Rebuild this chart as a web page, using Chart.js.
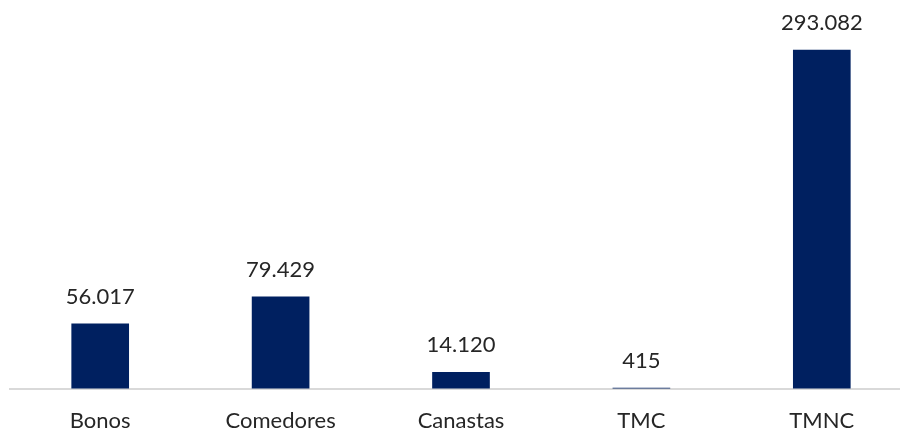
<!DOCTYPE html>
<html>
<head>
<meta charset="utf-8">
<script src="https://cdn.jsdelivr.net/npm/chart.js@4"></script>
<style>
html, body { margin:0; padding:0; background:#fff; overflow:hidden; }
#wrap { width:912px; height:430px; }
</style>
</head>
<body>
<div id="wrap"><canvas id="chart"></canvas></div>
<script>
const categories = ["Bonos", "Comedores", "Canastas", "TMC", "TMNC"]
const values = [56017, 79429, 14120, 415, 293082]

// miles con punto
const fmt = v => String(v).replace(/\B(?=(\d{3})+(?!\d))/g, ".")

const FONT = "Lato, 'Open Sans', sans-serif"

const valueLabels = {
id: "valueLabels",
afterDatasetsDraw(chart){
const ctx = chart.ctx
const meta = chart.getDatasetMeta(0)
ctx.save()
ctx.font = "22px " + FONT
ctx.fillStyle = "#262626"
ctx.textAlign = "center"
ctx.textBaseline = "middle"
meta.data.forEach((bar,i)=>{
ctx.fillText(fmt(values[i]), bar.x, bar.y - 27)
})
ctx.restore()
}
}

new Chart(document.getElementById("chart"),{
type:"bar",
data:{
labels:categories,
datasets:[{
data:values,
backgroundColor:"#002060",
barThickness:57
}]
},
plugins:[valueLabels],
options:{
responsive:true,
maintainAspectRatio:false,
animation:false,
layout:{padding:{top:42, left:10, right:0, bottom:-23}},
plugins:{legend:{display:false}, tooltip:{enabled:false}},
scales:{
x:{
grid:{display:false, drawTicks:false},
border:{color:"#d9d9d9", width:2},
ticks:{color:"#262626", font:{family:FONT, size:22}, padding:19}
},
y:{
display:false,
min:0,
max:300000
}
}
}
})
</script>
</body>
</html>
